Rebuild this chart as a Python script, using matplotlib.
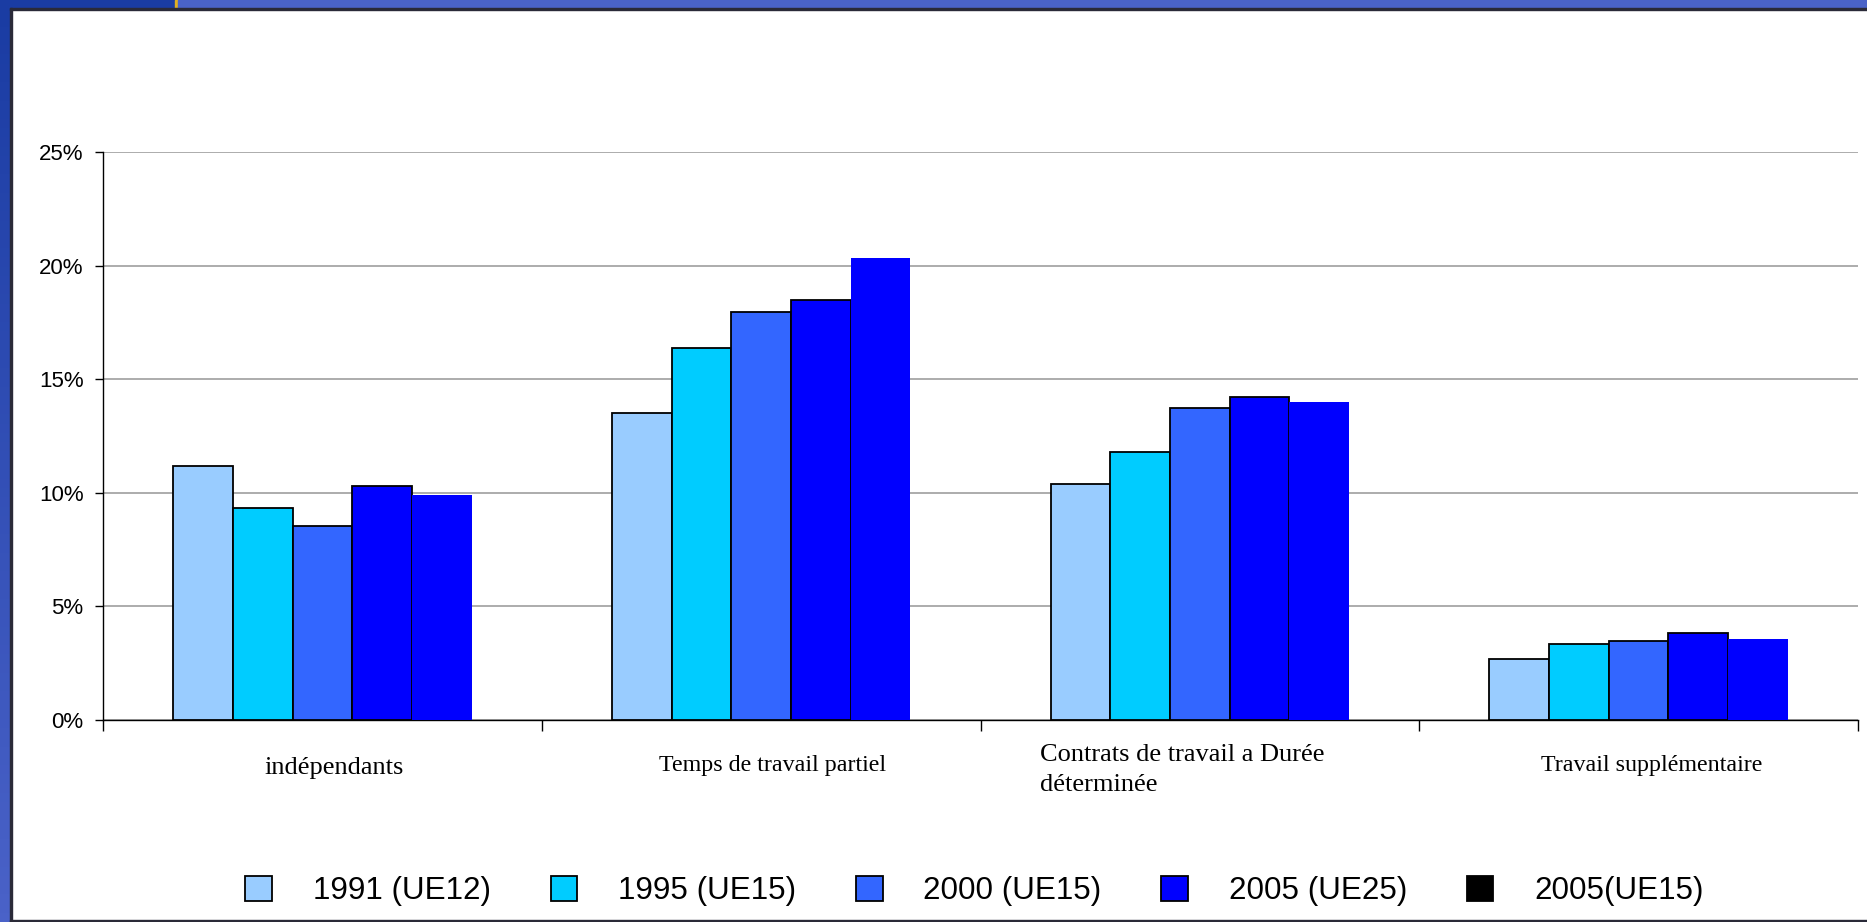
import numpy as np
import matplotlib.pyplot as plt
from matplotlib.patches import Rectangle, Patch
from matplotlib.colors import LinearSegmentedColormap

categories = ["indépendants", "Temps de travail partiel",
              "Contrats de travail a Durée\ndéterminée", "Travail supplémentaire"]
series = ["1991 (UE12)", "1995 (UE15)", "2000 (UE15)", "2005 (UE25)", "2005(UE15)"]
v1991 = [11.18, 13.50, 10.38, 2.70]
v1995 = [9.34, 16.36, 11.80, 3.34]
v2000 = [8.55, 17.96, 13.73, 3.49]
v2005_25 = [10.30, 18.50, 14.20, 3.82]
v2005_15 = [9.90, 20.33, 13.99, 3.58]
values = [v1991, v1995, v2000, v2005_25, v2005_15]

colors = ["#99ccff", "#00ccff", "#3366ff", "#0000ff", "#0000ff"]
legend_colors = ["#99ccff", "#00ccff", "#3366ff", "#0000ff", "#000000"]
edges = ["black", "black", "black", "black", "none"]

W, H = 1867, 922
fig = plt.figure(figsize=(W / 100, H / 100), dpi=100)
fig.patch.set_facecolor("white")

# cadre de la diapo
grad = fig.add_axes([0, 0, 10 / W, 1])
grad.imshow(np.linspace(0, 1, 100).reshape(-1, 1), aspect="auto",
            cmap=LinearSegmentedColormap.from_list("g", ["#1a3ca3", "#4a62c8"]),
            extent=[0, 1, 0, 1], origin="upper")
grad.axis("off")
fig.patches.append(Rectangle((0, 1 - 8 / H), 175 / W, 8 / H, transform=fig.transFigure,
                             color="#1a3ca3", zorder=0))
fig.patches.append(Rectangle((175 / W, 1 - 8 / H), 3 / W, 8 / H, transform=fig.transFigure,
                             color="#e0b020", zorder=0))
fig.patches.append(Rectangle((178 / W, 1 - 8 / H), 1 - 178 / W, 8 / H, transform=fig.transFigure,
                             color="#4a63c8", zorder=0))
fig.patches.append(Rectangle((10 / W, 1 - 10 / H), 1 - 10 / W, 2 / H, transform=fig.transFigure,
                             color="#2a2a38", zorder=0))
fig.patches.append(Rectangle((10 / W, 0), 2 / W, 1 - 8 / H, transform=fig.transFigure,
                             color="#2a2a38", zorder=0))
fig.patches.append(Rectangle((10 / W, 0), 1 - 10 / W, 2 / H, transform=fig.transFigure,
                             color="#2a2a38", zorder=0))

ax = fig.add_axes([103 / W, (H - 720) / H, (1858 - 103) / W, (720 - 152) / H])
x = np.arange(len(categories))
bw = 0.136
for i, (vals, c, ec) in enumerate(zip(values, colors, edges)):
    ax.bar(x + (i - 2) * bw, vals, width=bw, color=c, edgecolor=ec,
           linewidth=1.3 if ec != "none" else 0, zorder=3)

ax.set_xlim(-0.5, len(categories) - 0.5)
ax.set_ylim(0, 25)
ax.set_yticks([0, 5, 10, 15, 20, 25])
ax.set_yticklabels([f"{t}%" for t in [0, 5, 10, 15, 20, 25]], fontsize=16,
                   family="Liberation Sans")
ax.yaxis.grid(True, color="#a6a6a6", linewidth=1.3, zorder=0)
ax.tick_params(axis="y", length=6, width=1, pad=8)

# etiquettes des categories (tailles et decalages differents comme l'original)
ax.set_xticks(np.arange(len(categories) + 1) - 0.5)
ax.set_xticklabels([])
ax.tick_params(axis="x", length=8, width=1, direction="out")
sizes = [19, 17.3, 19, 17.3]
dx = [0.027, 0.025, -0.04, 0.03]
ys = [-0.0845, -0.080, -0.0877, -0.080]
for i, lab in enumerate(categories):
    ax.text(i + dx[i], ys[i], lab, transform=ax.get_xaxis_transform(), ha="center",
            va="center", fontsize=sizes[i], family="Liberation Serif",
            multialignment="left", linespacing=1.47)

for s in ["top", "right"]:
    ax.spines[s].set_visible(False)
ax.spines["left"].set_linewidth(1)
ax.spines["bottom"].set_linewidth(1)

handles = [Patch(facecolor=c, edgecolor="black", linewidth=1.3) for c in legend_colors]
fig.legend(handles, series, loc="center", bbox_to_anchor=(0.522, (H - 891) / H), ncol=5,
           frameon=False, prop={"family": "Liberation Sans", "size": 22.6},
           handlelength=0.85, handleheight=0.85, handletextpad=1.3, columnspacing=1.9)

fig.savefig("out.png", dpi=100)
